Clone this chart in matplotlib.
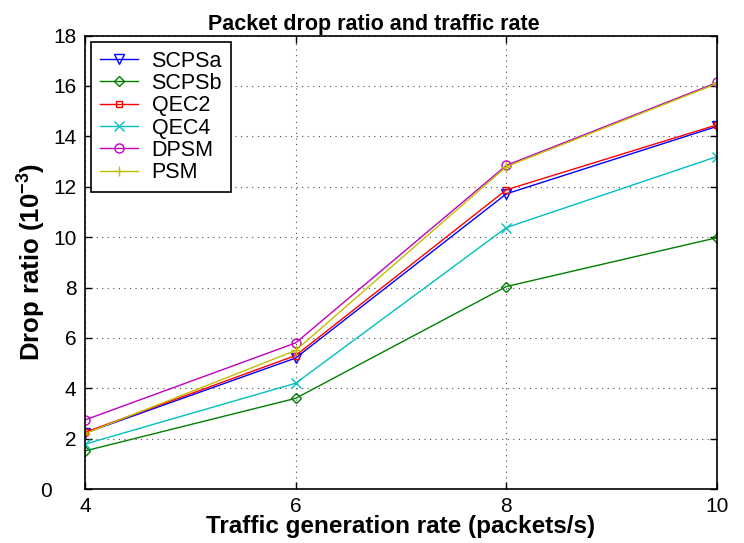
import matplotlib
matplotlib.use("Agg")
import matplotlib.pyplot as plt
import matplotlib.transforms as mtransforms

plt.rcParams['font.family'] = ['Liberation Sans', 'DejaVu Sans']
plt.rcParams['mathtext.default'] = 'regular'

# data
rate = [4, 6, 8, 10]
scpsa = [2.22, 5.2, 11.72, 14.4]
scpsb = [1.51, 3.6, 8.04, 9.98]
qec2 = [2.25, 5.3, 11.88, 14.46]
qec4 = [1.78, 4.2, 10.38, 13.2]
dpsm = [2.74, 5.8, 12.85, 16.14]
psm = [2.2, 5.5, 12.8, 16.1]

series = [
    ('SCPSa', scpsa, 'v', (0, 0, 1)),
    ('SCPSb', scpsb, 'D', (0, 0.5, 0)),
    ('QEC2', qec2, 's', (1, 0, 0)),
    ('QEC4', qec4, 'x', (0, 0.75, 0.75)),
    ('DPSM', dpsm, 'o', (0.75, 0, 0.75)),
    ('PSM', psm, '+', (0.75, 0.75, 0)),
]

fig = plt.figure(figsize=(7.44, 5.43), dpi=100)
ax = fig.add_axes([0.114, 0.0994, 0.85, 0.835])

for name, vals, mk, col in series:
    ms = 5 if mk in ('D', 's') else 6.5
    ax.plot(rate, vals, color=col, marker=mk, markersize=ms,
            markerfacecolor='none', markeredgecolor=col, linewidth=1, label=name)

ax.set_xlim(4, 10)
ax.set_ylim(0, 18)
ax.set_xticks([4, 6, 8, 10])
ax.set_yticks(range(0, 19, 2))
ax.grid(True, linestyle=(0, (1, 4)), color='0.3', linewidth=0.8)
ax.tick_params(direction='in', length=5, labelsize=15, width=1,
               top=True, right=True, pad=6)
for s in ax.spines.values():
    s.set_linewidth(1.2)

# the "0" label sits further left in the original
lbl0 = ax.get_yticklabels()[0]
lbl0.set_transform(lbl0.get_transform() + mtransforms.ScaledTranslation(-0.25, 0, fig.dpi_scale_trans))

ax.set_title('Packet drop ratio and traffic rate', fontsize=15.5, fontweight='bold',
             pad=4, x=0.457)
ax.set_xlabel('Traffic generation rate (packets/s)', fontsize=17.5, fontweight='bold', labelpad=-1)
ax.set_ylabel('Drop ratio ($10^{-3}$)', fontsize=18.5, fontweight='bold', labelpad=-6)

leg = ax.legend(loc='upper left', fontsize=15.5, fancybox=False, framealpha=1,
                edgecolor='black', handlelength=1.75, borderaxespad=0.3,
                labelspacing=0.06, handletextpad=0.65, borderpad=0.4)
leg.get_frame().set_linewidth(1.2)

fig.savefig('out.png', dpi=100)
